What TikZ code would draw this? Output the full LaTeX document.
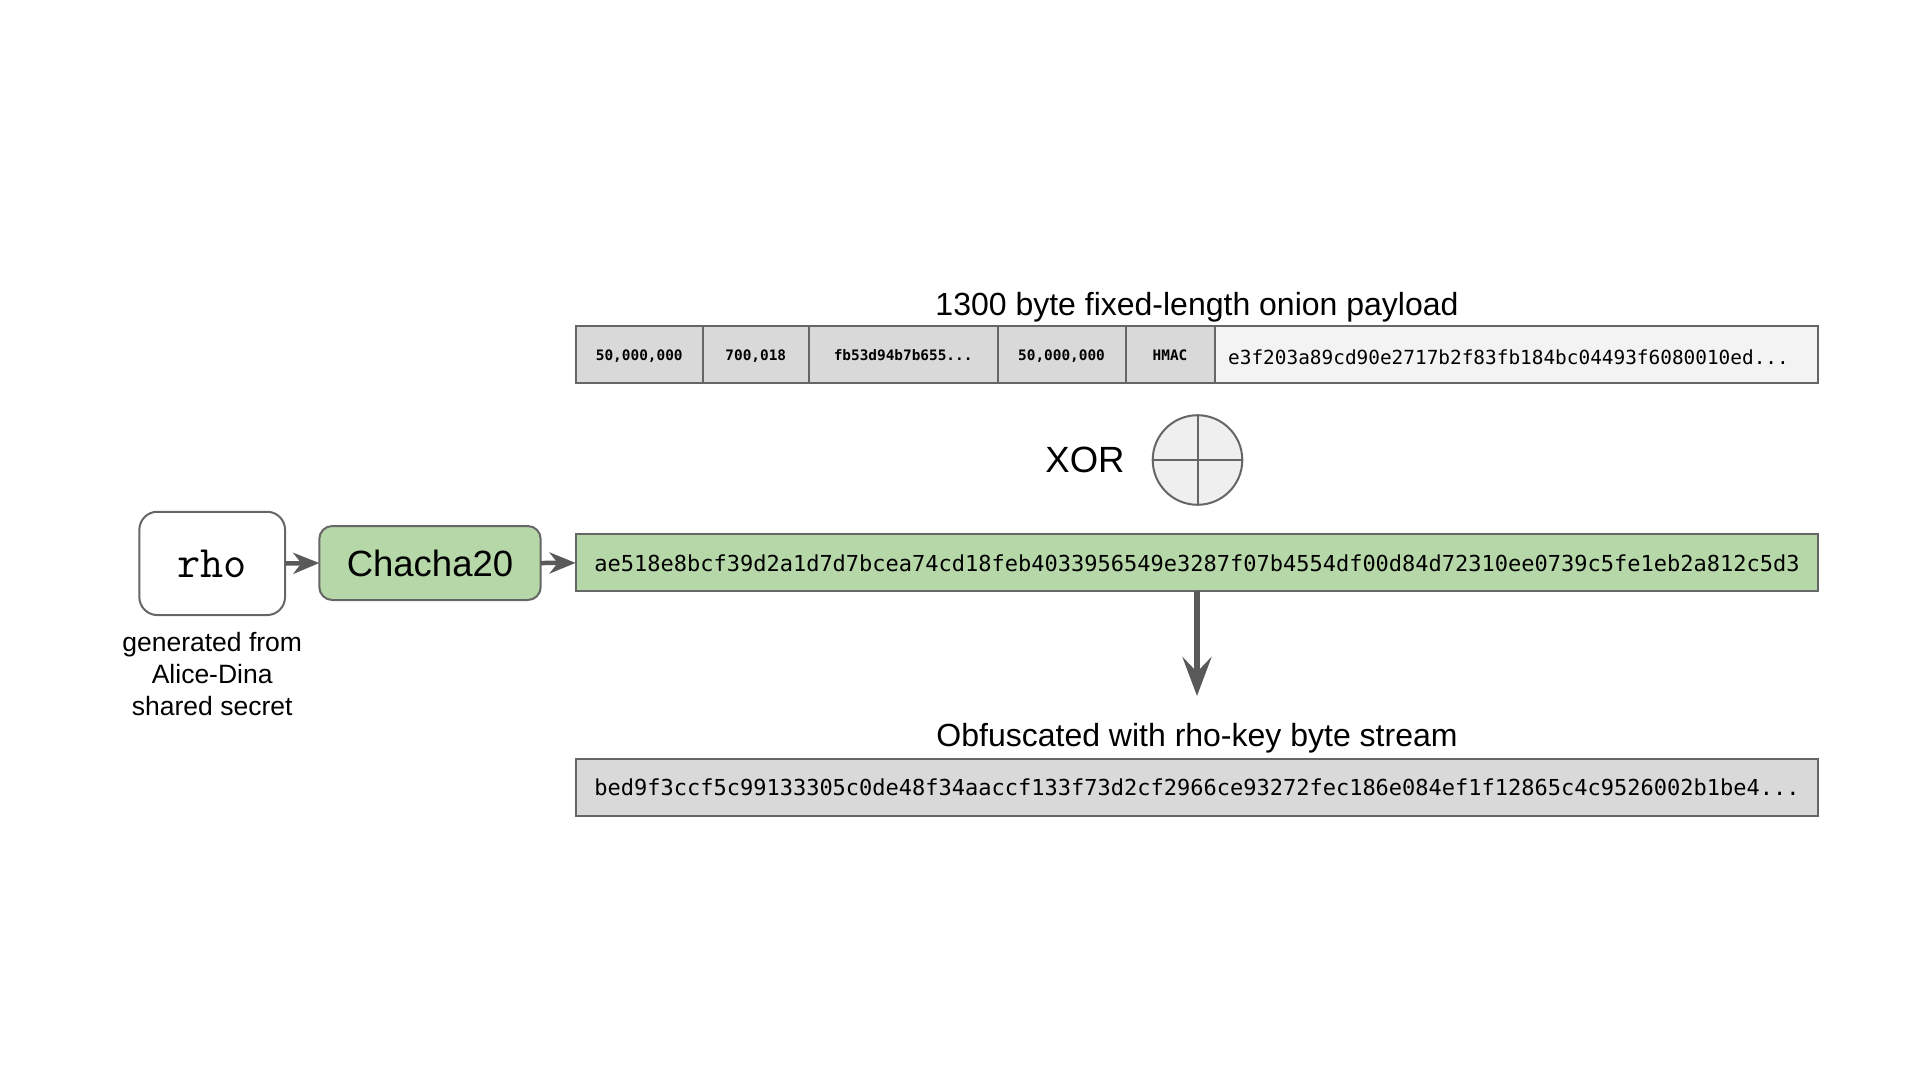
\documentclass[tikz,border=0pt]{standalone}
\usepackage{fontspec}
\setmainfont{Liberation Sans}
\newfontfamily\hexfont{DejaVu Sans Mono}
\usetikzlibrary{arrows.meta}
\definecolor{edgegray}{HTML}{666666}
\definecolor{arrgray}{HTML}{595959}
\definecolor{grn}{HTML}{B6D7A8}
\definecolor{cellgray}{HTML}{D9D9D9}
\definecolor{celllight}{HTML}{F3F3F3}
\definecolor{circfill}{HTML}{EFEFEF}
\begin{document}
\begin{tikzpicture}[x=1pt,y=-1pt,
  box/.style={draw=edgegray, line width=2pt, inner sep=0pt, outer sep=0pt},
  cellbox/.style={box, fill=cellgray, minimum height=57pt, anchor=west},
  celltext/.style={inner sep=0pt, anchor=base, font=\hexfont\bfseries\fontsize{14.4}{14.4}\selectfont},
  barbox/.style={box, minimum width=1242.8pt, minimum height=57pt},
  bartext/.style={inner sep=0pt, anchor=base, font=\hexfont\fontsize{22}{22}\selectfont},
  titletext/.style={inner sep=0pt, anchor=base, font=\fontsize{32}{32}\selectfont},
  conn/.style={draw=arrgray, line width=4.5pt,
    -{Stealth[length=26pt, width=21pt, inset=8pt]}, arrgray},
  bigconn/.style={draw=arrgray, line width=6pt,
    -{Stealth[length=39pt, width=29pt, inset=15pt]}, arrgray}
]
\useasboundingbox (0,0) rectangle (1920,1080);

% title
\node[titletext] (title1) at (1197,315) {1300 byte fixed-length onion payload};

% top bar cells
\node[cellbox, minimum width=127.3pt] (c1) at (575.6,354.5) {};
\node[cellbox, minimum width=105.8pt] (c2) at (702.9,354.5) {};
\node[cellbox, minimum width=188.8pt] (c3) at (808.7,354.5) {};
\node[cellbox, minimum width=128.1pt] (c4) at (997.5,354.5) {};
\node[cellbox, minimum width=88.9pt] (c5) at (1125.6,354.5) {};
\node[box, fill=celllight, minimum width=603.9pt, minimum height=57pt, anchor=west] (c6) at (1214.5,354.5) {};
\node[celltext] (c1t) at ([yshift=-5.6pt]c1.center) {50,000,000};
\node[celltext] (c2t) at ([yshift=-5.6pt]c2.center) {700,018};
\node[celltext] (c3t) at ([yshift=-5.6pt]c3.center) {fb53d94b7b655...};
\node[celltext] (c4t) at ([yshift=-5.6pt]c4.center) {50,000,000};
\node[celltext] (c5t) at ([yshift=-5.6pt]c5.center) {HMAC};
\node[inner sep=0pt, anchor=base west, font=\hexfont\fontsize{19.4}{19.4}\selectfont] (c6t) at (1228,364) {e3f203a89cd90e2717b2f83fb184bc04493f6080010ed...};

% XOR
\node[inner sep=0pt, anchor=base, font=\fontsize{36.5}{36.5}\selectfont] (xortext) at (1085,472.7) {XOR};
\node[circle, draw=edgegray, line width=2pt, fill=circfill, minimum size=89.6pt, inner sep=0pt, outer sep=0pt] (xorc) at (1197.5,460) {};
\draw[edgegray, line width=2pt] (xorc.north) -- (xorc.south);
\draw[edgegray, line width=2pt] (xorc.west) -- (xorc.east);

% rho and chacha
\node[box, fill=white, rounded corners=18pt, minimum width=145.7pt, minimum height=103.3pt,
  font=\ttfamily\fontsize{45}{45}\selectfont] (rho) at (212.2,563.4) {rho};
\node[inner sep=0pt, anchor=base, align=center, font=\fontsize{26.5}{31.7}\selectfont] (caption) at (212.2,715.1)
  {generated from\\Alice-Dina\\shared secret};
\node[box, fill=grn, rounded corners=13pt, minimum width=221.4pt, minimum height=74pt,
  font=\fontsize{36.5}{36.5}\selectfont] (chacha) at (430,563) {Chacha20};

% green key-stream bar
\node[barbox, fill=grn] (keybar) at (1197,562.9) {};
\node[bartext] (keytext) at (1197,571.5)
  {ae518e8bcf39d2a1d7d7bcea74cd18feb4033956549e3287f07b4554df00d84d72310ee0739c5fe1eb2a812c5d3};

\draw[conn] (rho.east) -- (chacha.west);
\draw[conn] (chacha.east) -- (keybar.west);

\coordinate (downend) at (1197,696);
\draw[bigconn] (keybar.south) -- (downend);

% result
\node[titletext] (title2) at (1197,746) {Obfuscated with rho-key byte stream};
\node[barbox, fill=cellgray] (outbar) at (1197,787.3) {};
\node[bartext] (outtext) at (1197,795.5)
  {bed9f3ccf5c99133305c0de48f34aaccf133f73d2cf2966ce93272fec186e084ef1f12865c4c9526002b1be4...};
\end{tikzpicture}
\end{document}
